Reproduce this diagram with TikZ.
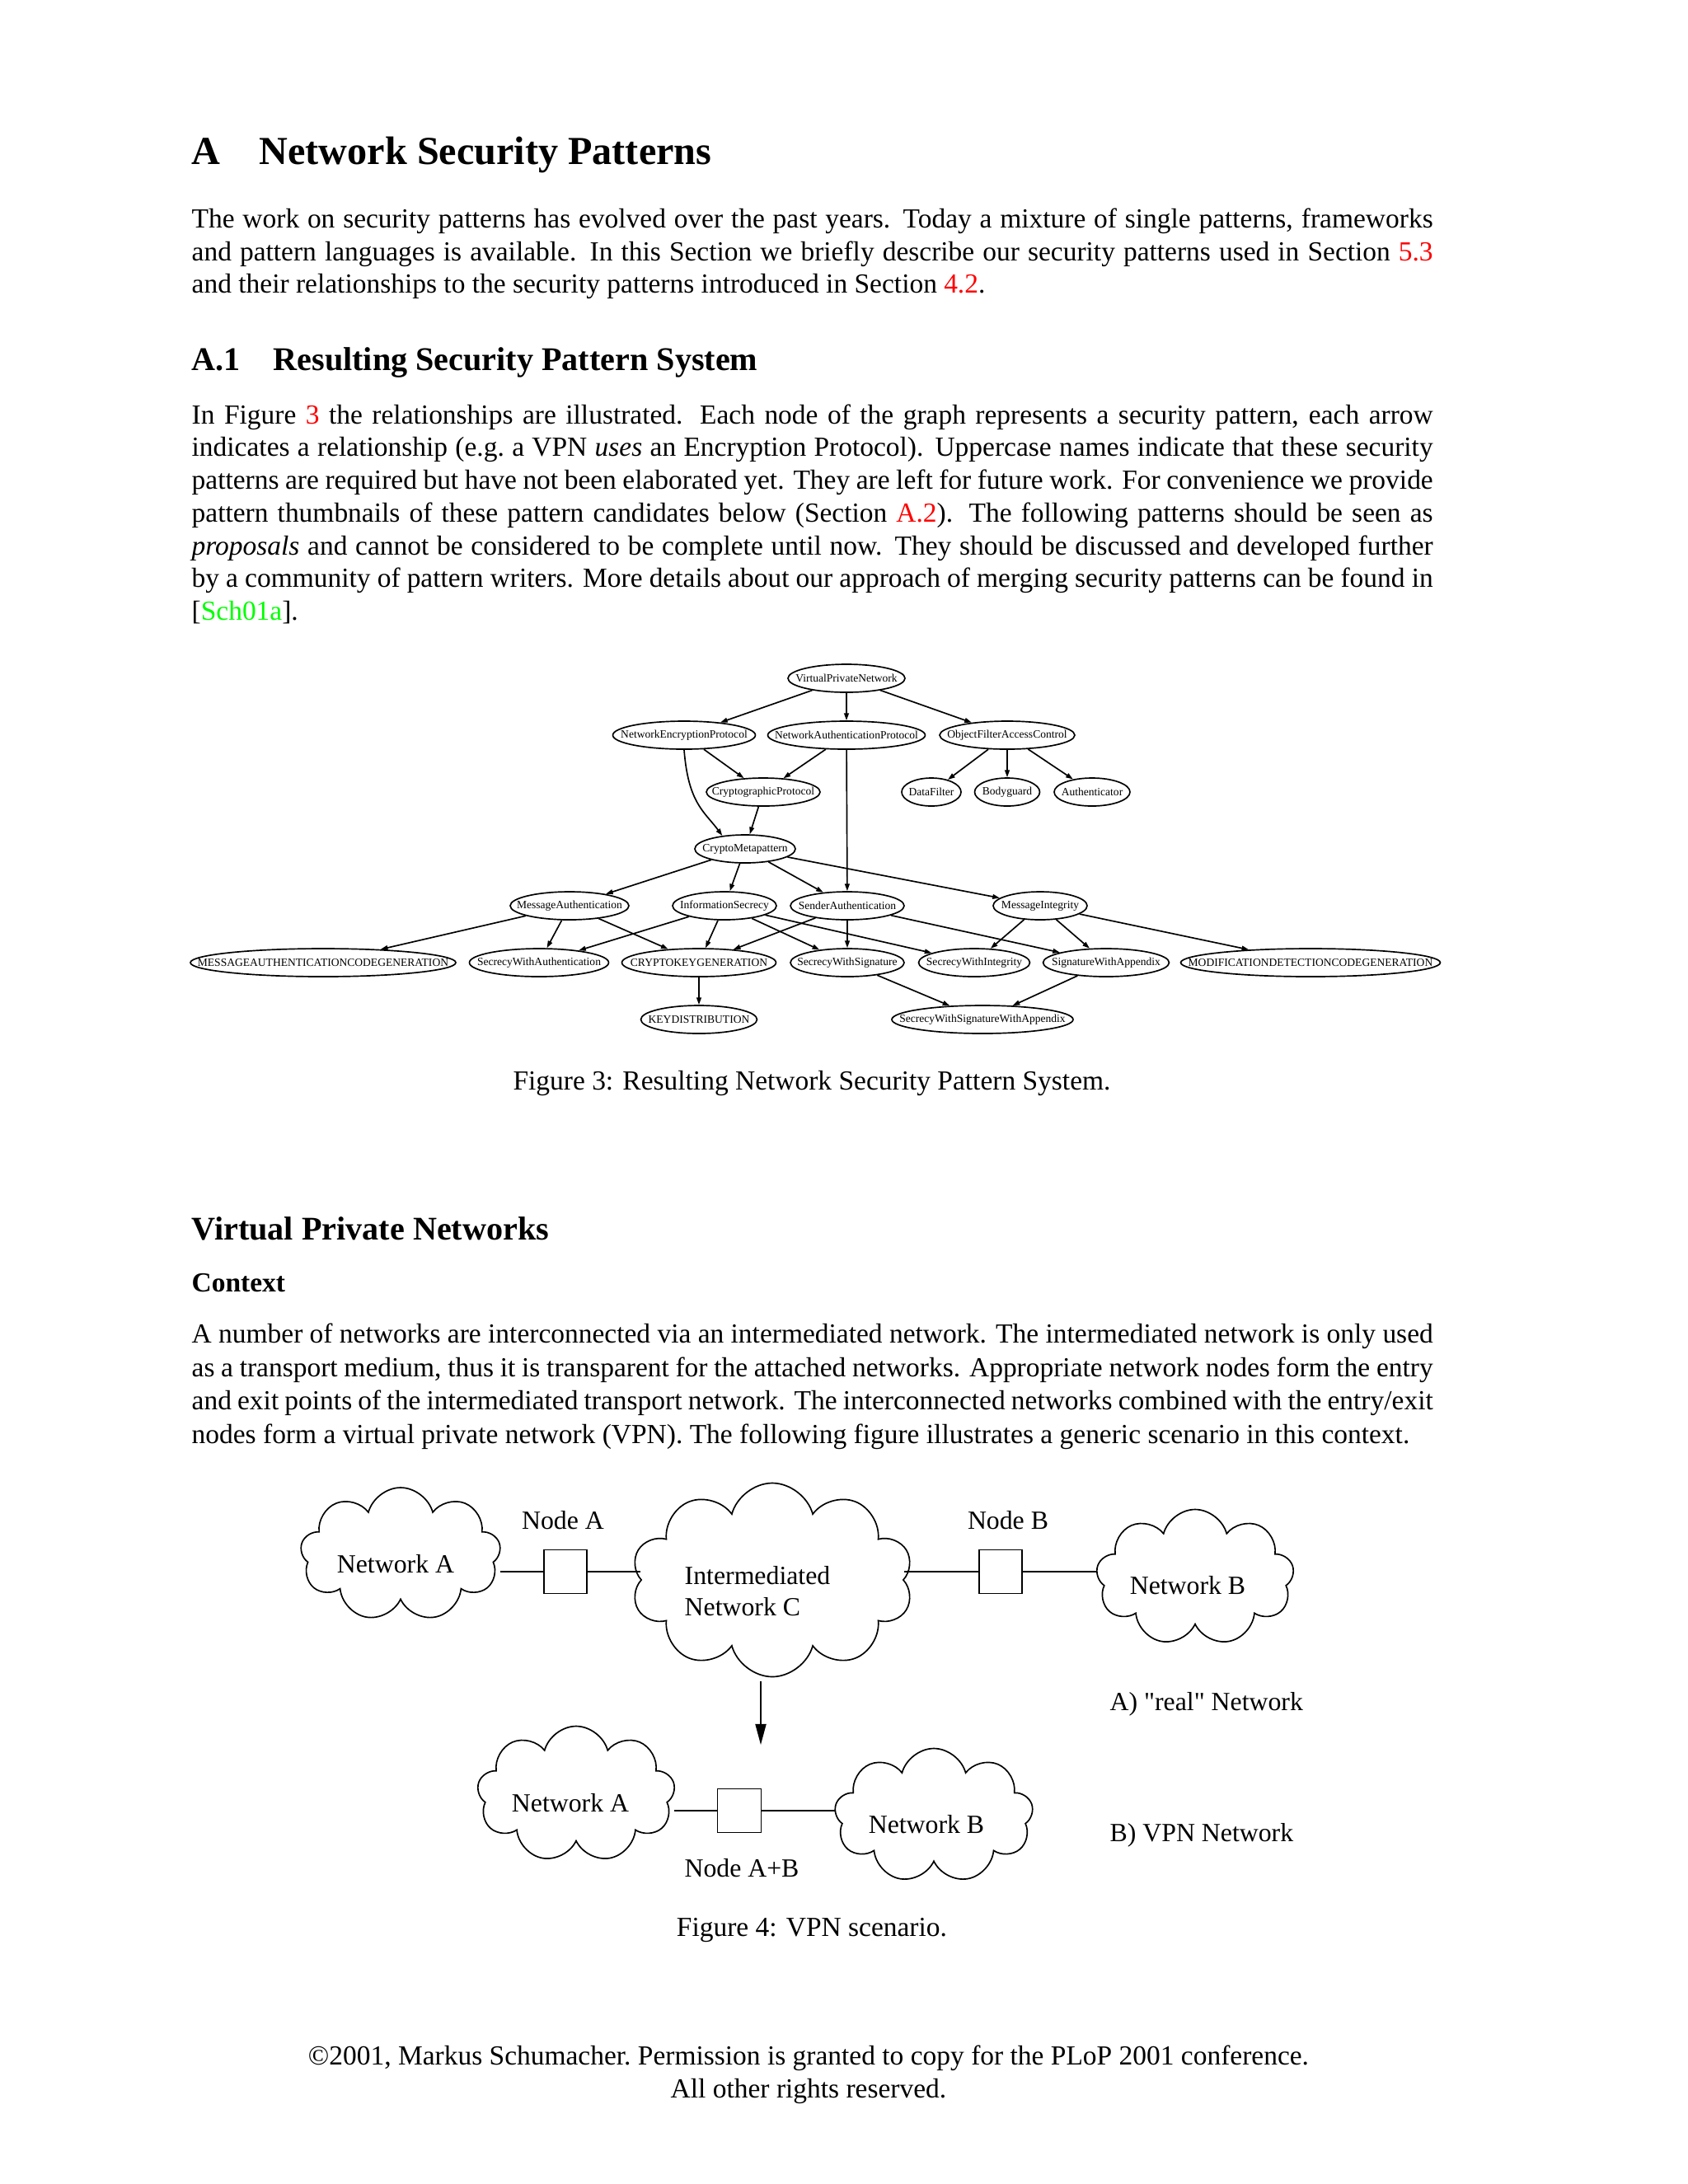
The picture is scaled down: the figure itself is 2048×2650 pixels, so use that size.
\documentclass[tikz,border=0pt]{standalone}
\usepackage{fontspec}
\setmainfont{Liberation Serif}
\newfontfamily\rawserif{Liberation Serif}
\usetikzlibrary{arrows.meta,shapes.geometric,shapes.symbols}
\newdimen\px \px=0.29883pt
\definecolor{linkred}{rgb}{1,0,0}
\definecolor{linkgreen}{rgb}{0,1,0}
\newcommand{\jl}[1]{\makebox[1506\px][s]{#1}}
\newcommand{\lab}[1]{\makebox[0pt]{#1}}
\begin{document}
\begin{tikzpicture}[x=0.29883pt,y=-0.29883pt,
  txt/.style={anchor=base west, inner sep=0pt, font=\fontsize{10}{12}\selectfont},
  ctxt/.style={anchor=base, inner sep=0pt, font=\fontsize{10}{12}\selectfont},
  pat/.style={ellipse, draw, line width=0.5pt, inner sep=0pt, minimum height=34*\px, font=\fontsize{4.05}{4.8}\selectfont},
  dep/.style={-{Triangle[length=2.6pt,width=1.7pt]}, line width=0.5pt},
  ftxt/.style={inner sep=0pt, font=\fontsize{9.5}{11.4}\selectfont},
  cloudy/.style={cloud, cloud puffs=9, cloud ignores aspect, draw, line width=0.5pt, inner sep=0pt},
  netbox/.style={draw, line width=0.5pt, minimum width=52*\px, minimum height=53*\px, inner sep=0pt},
  link/.style={line width=0.5pt}
]
\fill[white] (0,0) rectangle (2048,2650);
\useasboundingbox (0,0) rectangle (2048,2650);

% ---------- headings and text ----------
\node[txt, font=\fontsize{14.4}{18}\bfseries] (h1n) at (232,199) {A};
\node[txt, font=\fontsize{14.4}{18}\bfseries] (h1t) at (314,199) {Network Security Patterns};

\node[txt] (p1a) at (232,276) {\jl{The work on security patterns has evolved over the past years.  Today a mixture of single patterns, frameworks}};
\node[txt] (p1b) at (232,316) {\jl{and pattern languages is available.  In this Section we briefly describe our security patterns used in Section \textcolor{linkred}{5.3}}};
\node[txt] (p1c) at (232,355) {and their relationships to the security patterns introduced in Section \textcolor{linkred}{4.2}.};

\node[txt, font=\fontsize{12}{14}\bfseries] (h2n) at (232,449) {A.1};
\node[txt, font=\fontsize{12}{14}\bfseries] (h2t) at (331,449) {Resulting Security Pattern System};

\node[txt] (p2a) at (232,514) {\jl{In Figure \textcolor{linkred}{3} the relationships are illustrated.  Each node of the graph represents a security pattern, each arrow}};
\node[txt] (p2b) at (232,553) {\jl{indicates a relationship (e.g.\ a VPN \emph{uses} an Encryption Protocol). Uppercase names indicate that these security}};
\node[txt] (p2c) at (232,593) {\jl{patterns are required but have not been elaborated yet. They are left for future work. For convenience we provide}};
\node[txt] (p2d) at (232,633) {\jl{pattern thumbnails of these pattern candidates below (Section \textcolor{linkred}{A.2}).  The following patterns should be seen as}};
\node[txt] (p2e) at (232,673) {\jl{\emph{proposals} and cannot be considered to be complete until now.  They should be discussed and developed further}};
\node[txt] (p2f) at (232,712) {\jl{by a community of pattern writers. More details about our approach of merging security patterns can be found in}};
\node[txt] (p2g) at (232,752) {[\textcolor{linkgreen}{Sch01a}].};

% ---------- Figure 3 graph ----------
\node[pat, minimum width=142*\px] (vpn) at (1027,823) {\lab{VirtualPrivateNetwork}};
\node[pat, minimum width=173*\px] (nep) at (830,892) {\lab{NetworkEncryptionProtocol}};
\node[pat, minimum width=191*\px] (nap) at (1027,892) {\lab{NetworkAuthenticationProtocol}};
\node[pat, minimum width=164*\px] (ofac) at (1222,892) {\lab{ObjectFilterAccessControl}};
\node[pat, minimum width=138*\px] (cp) at (926,961) {\lab{CryptographicProtocol}};
\node[pat, minimum width=72*\px] (df) at (1130,961) {\lab{DataFilter}};
\node[pat, minimum width=79*\px] (bg) at (1222,961) {\lab{Bodyguard}};
\node[pat, minimum width=92*\px] (au) at (1325,961) {\lab{Authenticator}};
\node[pat, minimum width=122*\px] (cm) at (904,1030) {\lab{CryptoMetapattern}};
\node[pat, minimum width=144*\px] (ma) at (691,1099) {\lab{MessageAuthentication}};
\node[pat, minimum width=126*\px] (is) at (879,1099) {\lab{InformationSecrecy}};
\node[pat, minimum width=138*\px] (sa) at (1028,1099) {\lab{SenderAuthentication}};
\node[pat, minimum width=114*\px] (mi) at (1262,1099) {\lab{MessageIntegrity}};
\node[pat, minimum width=322*\px] (macg) at (392,1168) {\lab{MESSAGEAUTHENTICATIONCODEGENERATION}};
\node[pat, minimum width=169*\px] (swa) at (654,1168) {\lab{SecrecyWithAuthentication}};
\node[pat, minimum width=187*\px] (ckg) at (848,1168) {\lab{CRYPTOKEYGENERATION}};
\node[pat, minimum width=138*\px] (sws) at (1028,1168) {\lab{SecrecyWithSignature}};
\node[pat, minimum width=135*\px] (swi) at (1182,1168) {\lab{SecrecyWithIntegrity}};
\node[pat, minimum width=153*\px] (swap) at (1342,1168) {\lab{SignatureWithAppendix}};
\node[pat, minimum width=315*\px] (mdcg) at (1590,1168) {\lab{MODIFICATIONDETECTIONCODEGENERATION}};
\node[pat, minimum width=141*\px] (kd) at (848,1237) {\lab{KEYDISTRIBUTION}};
\node[pat, minimum width=220*\px] (swswa) at (1192,1237) {\lab{SecrecyWithSignatureWithAppendix}};

\draw[dep] (vpn) -- (nep);
\draw[dep] (vpn) -- (nap);
\draw[dep] (vpn) -- (ofac);
\draw[dep] (nep) -- (cp);
\draw[dep] (nep.south) .. controls (835,975) and (855,985) .. (cm.150);
\draw[dep] (nap) -- (cp);
\draw[dep] (nap) -- (sa);
\draw[dep] (ofac) -- (df);
\draw[dep] (ofac) -- (bg);
\draw[dep] (ofac) -- (au);
\draw[dep] (cp) -- (cm);
\draw[dep] (cm) -- (ma);
\draw[dep] (cm) -- (is);
\draw[dep] (cm) -- (sa);
\draw[dep] (cm) -- (mi);
\draw[dep] (ma) -- (macg);
\draw[dep] (ma) -- (swa);
\draw[dep] (ma) -- (ckg);
\draw[dep] (is) -- (swa);
\draw[dep] (is) -- (ckg);
\draw[dep] (is) -- (sws);
\draw[dep] (is) -- (swi);
\draw[dep] (sa) -- (ckg);
\draw[dep] (sa) -- (sws);
\draw[dep] (sa) -- (swap);
\draw[dep] (mi) -- (swi);
\draw[dep] (mi) -- (swap);
\draw[dep] (mi) -- (mdcg);
\draw[dep] (ckg) -- (kd);
\draw[dep] (sws) -- (swswa);
\draw[dep] (swap) -- (swswa);

\node[ctxt] (cap3) at (985,1322) {Figure 3: Resulting Network Security Pattern System.};

% ---------- VPN section ----------
\node[txt, font=\fontsize{12}{14}\bfseries] (h3) at (232,1504) {Virtual Private Networks};
\node[txt, font=\fontsize{10}{12}\bfseries] (h4) at (232,1567) {Context};

\node[txt] (p3a) at (232,1629) {\jl{A number of networks are interconnected via an intermediated network. The intermediated network is only used}};
\node[txt] (p3b) at (232,1670) {\jl{as a transport medium, thus it is transparent for the attached networks. Appropriate network nodes form the entry}};
\node[txt] (p3c) at (232,1710) {\jl{and exit points of the intermediated transport network. The interconnected networks combined with the entry/exit}};
\node[txt] (p3d) at (232,1751) {\frenchspacing nodes form a virtual private network (VPN). The following figure illustrates a generic scenario in this context.};

% ---------- Figure 4 ----------
\node[cloudy, minimum width=243*\px, minimum height=162*\px] (cA1) at (486,1886) {};
\node[cloudy, minimum width=342*\px, minimum height=235*\px, cloud puffs=10] (cC) at (937,1917) {};
\node[cloudy, minimum width=240*\px, minimum height=165*\px] (cB1) at (1450,1914) {};
\node[cloudy, minimum width=240*\px, minimum height=165*\px] (cA2) at (699,2177) {};
\node[cloudy, minimum width=241*\px, minimum height=163*\px] (cB2) at (1133,2203) {};

\node[netbox] (boxA) at (686,1907) {};
\node[netbox] (boxB) at (1214,1907) {};
\node[netbox, minimum width=53*\px] (boxAB) at (897,2197) {};

\draw[link] (cA1.east |- boxA.west) -- (boxA.west);
\draw[link] (boxA.east) -- (boxA.east -| cC.west);
\draw[link] (cC.east |- boxB.west) -- (boxB.west);
\draw[link] (boxB.east) -- (boxB.east -| cB1.west);
\draw[link] (cA2.east |- boxAB.west) -- (boxAB.west);
\draw[link] (boxAB.east) -- (boxAB.east -| cB2.west);

\coordinate (dn1) at (923,2040);
\coordinate (dn2) at (923,2117);
\draw[link, -{Triangle[length=7.5pt,width=3.9pt]}] (dn1) -- (dn2);

\node[ftxt] (tA1) at (480,1898) {Network A};
\node[ftxt, align=left] (tC) at (919,1931) {Intermediated\\Network C};
\node[ftxt] (tB1) at (1441,1924) {Network B};
\node[ftxt] (tA2) at (692,2188) {Network A};
\node[ftxt] (tB2) at (1124,2214) {Network B};
\node[ftxt] (nA) at (683,1845) {Node A};
\node[ftxt] (nB) at (1223,1845) {Node B};
\node[ftxt] (nAB) at (900,2267) {Node A+B};
\node[ftxt, anchor=west] (lr) at (1346,2068) {\rawserif A) "real" Network};
\node[ftxt, anchor=west] (lv) at (1346,2227) {B) VPN Network};

\node[ctxt] (cap4) at (985,2349) {Figure 4: VPN scenario.};

\node[ctxt] (ft1) at (981,2505) {\frenchspacing\textcopyright2001, Markus Schumacher. Permission is granted to copy for the PLoP 2001 conference.};
\node[ctxt] (ft2) at (981,2545) {All other rights reserved.};
\end{tikzpicture}
\end{document}
